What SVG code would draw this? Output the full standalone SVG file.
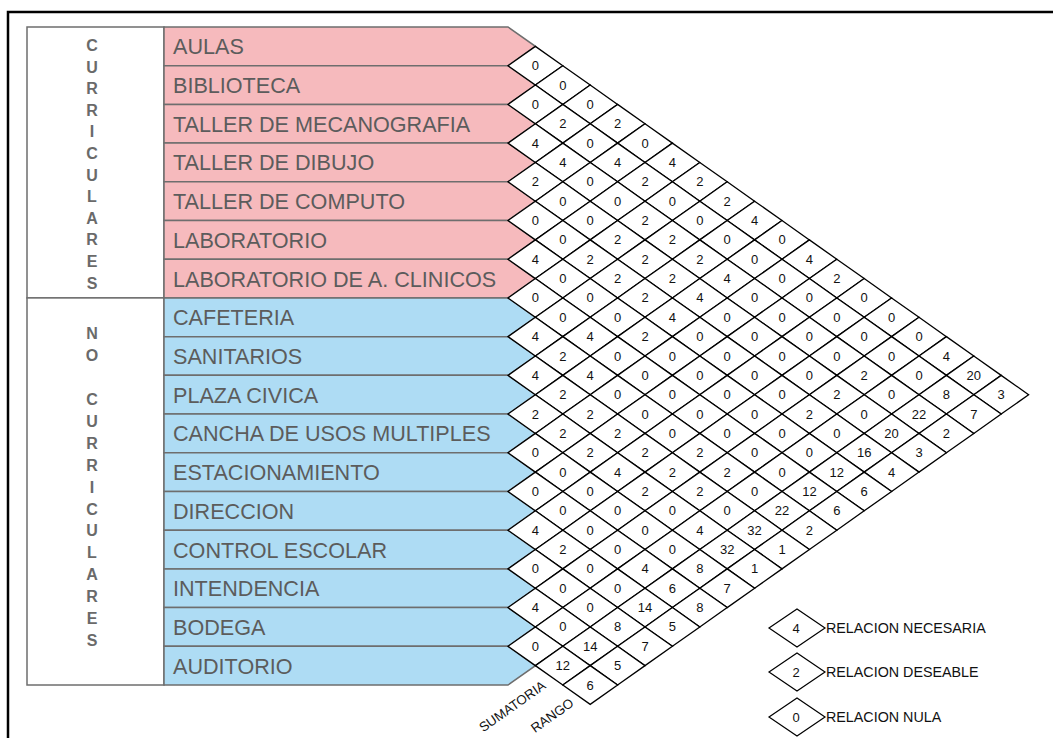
<svg xmlns="http://www.w3.org/2000/svg" xmlns:xlink="http://www.w3.org/1999/xlink" width="1053" height="738" viewBox="0 0 1053 738">
<style>
.lbl{font-family:"Liberation Sans",Arial,sans-serif;font-size:21.6px;fill:#5c5c5c}
.pk{fill:#f6babd;stroke:#6e6e6e;stroke-width:1.5}
.bl{fill:#aedcf4;stroke:#6e6e6e;stroke-width:1.5}
.cat{font-family:"Liberation Sans Narrow","Liberation Sans",Arial,sans-serif;font-size:16px;font-weight:bold;fill:#6a6a6a;text-anchor:middle}
.m use{fill:#fff;stroke:#000;stroke-width:1.3}
.m text,.lg text.d{font-family:"Liberation Sans",Arial,sans-serif;font-size:13px;fill:#111;text-anchor:middle}
.lg use{fill:#fff;stroke:#000;stroke-width:1.2}
.lg text.t{font-family:"Liberation Sans",Arial,sans-serif;font-size:14.3px;fill:#111}
.ax{font-family:"Liberation Sans",Arial,sans-serif;font-size:13.3px;fill:#111;text-anchor:middle}
</style>
<defs>
<path id="dm" d="M-27.4 0L0-19.35L27.4 0L0 19.35Z"/>
<path id="lgd" d="M-28 0L0-19L28 0L0 19Z"/>
</defs>
<rect x="0" y="0" width="1053" height="738" fill="#fff"/>
<rect id="frame" x="8" y="12" width="1100" height="800" fill="none" stroke="#000" stroke-width="2.5"/>

<g id="cat-curriculares">
<rect x="27" y="27" width="137" height="270.94" fill="#fff" stroke="#6e6e6e" stroke-width="1.5"/>
<text class="cat" x="92" y="51">C</text><text class="cat" x="92" y="72.6">U</text><text class="cat" x="92" y="94.2">R</text><text class="cat" x="92" y="115.8">R</text><text class="cat" x="92" y="137.4">I</text><text class="cat" x="92" y="159">C</text><text class="cat" x="92" y="180.6">U</text><text class="cat" x="92" y="202.2">L</text><text class="cat" x="92" y="223.8">A</text><text class="cat" x="92" y="245.4">R</text><text class="cat" x="92" y="267">E</text><text class="cat" x="92" y="288.6">S</text>
</g>
<g id="cat-no-curriculares">
<rect x="27" y="297.94" width="137" height="387.06" fill="#fff" stroke="#6e6e6e" stroke-width="1.5"/>
<text class="cat" x="92" y="339">N</text><text class="cat" x="92" y="360.9">O</text><text class="cat" x="92" y="404.8">C</text><text class="cat" x="92" y="426.7">U</text><text class="cat" x="92" y="448.7">R</text><text class="cat" x="92" y="470.6">R</text><text class="cat" x="92" y="492.6">I</text><text class="cat" x="92" y="514.5">C</text><text class="cat" x="92" y="536.4">U</text><text class="cat" x="92" y="558.3">L</text><text class="cat" x="92" y="580.3">A</text><text class="cat" x="92" y="602.2">R</text><text class="cat" x="92" y="624.1">E</text><text class="cat" x="92" y="646">S</text>
</g>

<g id="row-aulas"><polygon class="pk" points="164,27 508,27 535.4,46.35 508,65.71 164,65.71"/><text class="lbl" x="173" y="54.35">AULAS</text></g>
<g id="row-biblioteca"><polygon class="pk" points="164,65.71 508,65.71 535.4,85.06 508,104.41 164,104.41"/><text class="lbl" x="173" y="93.06">BIBLIOTECA</text></g>
<g id="row-mecanografia"><polygon class="pk" points="164,104.41 508,104.41 535.4,123.77 508,143.12 164,143.12"/><text class="lbl" x="173" y="131.77">TALLER DE MECANOGRAFIA</text></g>
<g id="row-dibujo"><polygon class="pk" points="164,143.12 508,143.12 535.4,162.47 508,181.82 164,181.82"/><text class="lbl" x="173" y="170.47">TALLER DE DIBUJO</text></g>
<g id="row-computo"><polygon class="pk" points="164,181.82 508,181.82 535.4,201.18 508,220.53 164,220.53"/><text class="lbl" x="173" y="209.18">TALLER DE COMPUTO</text></g>
<g id="row-laboratorio"><polygon class="pk" points="164,220.53 508,220.53 535.4,239.88 508,259.24 164,259.24"/><text class="lbl" x="173" y="247.88">LABORATORIO</text></g>
<g id="row-clinicos"><polygon class="pk" points="164,259.24 508,259.24 535.4,278.59 508,297.94 164,297.94"/><text class="lbl" x="173" y="286.59">LABORATORIO DE A. CLINICOS</text></g>
<g id="row-cafeteria"><polygon class="bl" points="164,297.94 508,297.94 535.4,317.30 508,336.65 164,336.65"/><text class="lbl" x="173" y="325.3">CAFETERIA</text></g>
<g id="row-sanitarios"><polygon class="bl" points="164,336.65 508,336.65 535.4,356 508,375.35 164,375.35"/><text class="lbl" x="173" y="364">SANITARIOS</text></g>
<g id="row-plaza"><polygon class="bl" points="164,375.35 508,375.35 535.4,394.71 508,414.06 164,414.06"/><text class="lbl" x="173" y="402.71">PLAZA CIVICA</text></g>
<g id="row-cancha"><polygon class="bl" points="164,414.06 508,414.06 535.4,433.41 508,452.77 164,452.77"/><text class="lbl" x="173" y="441.41">CANCHA DE USOS MULTIPLES</text></g>
<g id="row-estacionamiento"><polygon class="bl" points="164,452.77 508,452.77 535.4,472.12 508,491.47 164,491.47"/><text class="lbl" x="173" y="480.12">ESTACIONAMIENTO</text></g>
<g id="row-direccion"><polygon class="bl" points="164,491.47 508,491.47 535.4,510.83 508,530.18 164,530.18"/><text class="lbl" x="173" y="518.83">DIRECCION</text></g>
<g id="row-control"><polygon class="bl" points="164,530.18 508,530.18 535.4,549.53 508,568.88 164,568.88"/><text class="lbl" x="173" y="557.53">CONTROL ESCOLAR</text></g>
<g id="row-intendencia"><polygon class="bl" points="164,568.88 508,568.88 535.4,588.24 508,607.59 164,607.59"/><text class="lbl" x="173" y="596.24">INTENDENCIA</text></g>
<g id="row-bodega"><polygon class="bl" points="164,607.59 508,607.59 535.4,626.94 508,646.30 164,646.30"/><text class="lbl" x="173" y="634.94">BODEGA</text></g>
<g id="row-auditorio"><polygon class="bl" points="164,646.30 508,646.30 535.4,665.65 508,685 164,685"/><text class="lbl" x="173" y="673.65">AUDITORIO</text></g>

<g id="matrix" class="m">
<g transform="translate(0,65.71)"><use href="#dm" x="535.4"/><text x="535.4" y="4.5">0</text></g>
<g transform="translate(0,85.06)"><use href="#dm" x="562.8"/><text x="562.8" y="4.5">0</text></g>
<g transform="translate(0,104.41)"><use href="#dm" x="535.4"/><text x="535.4" y="4.5">0</text><use href="#dm" x="590.2"/><text x="590.2" y="4.5">0</text></g>
<g transform="translate(0,123.77)"><use href="#dm" x="562.8"/><text x="562.8" y="4.5">2</text><use href="#dm" x="617.6"/><text x="617.6" y="4.5">2</text></g>
<g transform="translate(0,143.12)"><use href="#dm" x="535.4"/><text x="535.4" y="4.5">4</text><use href="#dm" x="590.2"/><text x="590.2" y="4.5">0</text><use href="#dm" x="645"/><text x="645" y="4.5">0</text></g>
<g transform="translate(0,162.47)"><use href="#dm" x="562.8"/><text x="562.8" y="4.5">4</text><use href="#dm" x="617.6"/><text x="617.6" y="4.5">4</text><use href="#dm" x="672.4"/><text x="672.4" y="4.5">4</text></g>
<g transform="translate(0,181.82)"><use href="#dm" x="535.4"/><text x="535.4" y="4.5">2</text><use href="#dm" x="590.2"/><text x="590.2" y="4.5">0</text><use href="#dm" x="645"/><text x="645" y="4.5">2</text><use href="#dm" x="699.8"/><text x="699.8" y="4.5">2</text></g>
<g transform="translate(0,201.18)"><use href="#dm" x="562.8"/><text x="562.8" y="4.5">0</text><use href="#dm" x="617.6"/><text x="617.6" y="4.5">0</text><use href="#dm" x="672.4"/><text x="672.4" y="4.5">0</text><use href="#dm" x="727.2"/><text x="727.2" y="4.5">2</text></g>
<g transform="translate(0,220.53)"><use href="#dm" x="535.4"/><text x="535.4" y="4.5">0</text><use href="#dm" x="590.2"/><text x="590.2" y="4.5">0</text><use href="#dm" x="645"/><text x="645" y="4.5">2</text><use href="#dm" x="699.8"/><text x="699.8" y="4.5">0</text><use href="#dm" x="754.6"/><text x="754.6" y="4.5">4</text></g>
<g transform="translate(0,239.88)"><use href="#dm" x="562.8"/><text x="562.8" y="4.5">0</text><use href="#dm" x="617.6"/><text x="617.6" y="4.5">2</text><use href="#dm" x="672.4"/><text x="672.4" y="4.5">2</text><use href="#dm" x="727.2"/><text x="727.2" y="4.5">0</text><use href="#dm" x="782"/><text x="782" y="4.5">0</text></g>
<g transform="translate(0,259.24)"><use href="#dm" x="535.4"/><text x="535.4" y="4.5">4</text><use href="#dm" x="590.2"/><text x="590.2" y="4.5">2</text><use href="#dm" x="645"/><text x="645" y="4.5">2</text><use href="#dm" x="699.8"/><text x="699.8" y="4.5">2</text><use href="#dm" x="754.6"/><text x="754.6" y="4.5">0</text><use href="#dm" x="809.4"/><text x="809.4" y="4.5">4</text></g>
<g transform="translate(0,278.59)"><use href="#dm" x="562.8"/><text x="562.8" y="4.5">0</text><use href="#dm" x="617.6"/><text x="617.6" y="4.5">2</text><use href="#dm" x="672.4"/><text x="672.4" y="4.5">2</text><use href="#dm" x="727.2"/><text x="727.2" y="4.5">4</text><use href="#dm" x="782"/><text x="782" y="4.5">0</text><use href="#dm" x="836.8"/><text x="836.8" y="4.5">2</text></g>
<g transform="translate(0,297.94)"><use href="#dm" x="535.4"/><text x="535.4" y="4.5">0</text><use href="#dm" x="590.2"/><text x="590.2" y="4.5">0</text><use href="#dm" x="645"/><text x="645" y="4.5">2</text><use href="#dm" x="699.8"/><text x="699.8" y="4.5">4</text><use href="#dm" x="754.6"/><text x="754.6" y="4.5">0</text><use href="#dm" x="809.4"/><text x="809.4" y="4.5">0</text><use href="#dm" x="864.2"/><text x="864.2" y="4.5">0</text></g>
<g transform="translate(0,317.30)"><use href="#dm" x="562.8"/><text x="562.8" y="4.5">0</text><use href="#dm" x="617.6"/><text x="617.6" y="4.5">0</text><use href="#dm" x="672.4"/><text x="672.4" y="4.5">4</text><use href="#dm" x="727.2"/><text x="727.2" y="4.5">0</text><use href="#dm" x="782"/><text x="782" y="4.5">0</text><use href="#dm" x="836.8"/><text x="836.8" y="4.5">0</text><use href="#dm" x="891.6"/><text x="891.6" y="4.5">0</text></g>
<g transform="translate(0,336.65)"><use href="#dm" x="535.4"/><text x="535.4" y="4.5">4</text><use href="#dm" x="590.2"/><text x="590.2" y="4.5">4</text><use href="#dm" x="645"/><text x="645" y="4.5">2</text><use href="#dm" x="699.8"/><text x="699.8" y="4.5">0</text><use href="#dm" x="754.6"/><text x="754.6" y="4.5">0</text><use href="#dm" x="809.4"/><text x="809.4" y="4.5">0</text><use href="#dm" x="864.2"/><text x="864.2" y="4.5">0</text><use href="#dm" x="919"/><text x="919" y="4.5">0</text></g>
<g transform="translate(0,356)"><use href="#dm" x="562.8"/><text x="562.8" y="4.5">2</text><use href="#dm" x="617.6"/><text x="617.6" y="4.5">0</text><use href="#dm" x="672.4"/><text x="672.4" y="4.5">0</text><use href="#dm" x="727.2"/><text x="727.2" y="4.5">0</text><use href="#dm" x="782"/><text x="782" y="4.5">0</text><use href="#dm" x="836.8"/><text x="836.8" y="4.5">0</text><use href="#dm" x="891.6"/><text x="891.6" y="4.5">0</text><use href="#dm" x="946.4"/><text x="946.4" y="4.5">4</text></g>
<g transform="translate(0,375.35)"><use href="#dm" x="535.4"/><text x="535.4" y="4.5">4</text><use href="#dm" x="590.2"/><text x="590.2" y="4.5">4</text><use href="#dm" x="645"/><text x="645" y="4.5">0</text><use href="#dm" x="699.8"/><text x="699.8" y="4.5">0</text><use href="#dm" x="754.6"/><text x="754.6" y="4.5">0</text><use href="#dm" x="809.4"/><text x="809.4" y="4.5">0</text><use href="#dm" x="864.2"/><text x="864.2" y="4.5">2</text><use href="#dm" x="919"/><text x="919" y="4.5">0</text><use href="#dm" x="973.8"/><text x="973.8" y="4.5">20</text></g>
<g transform="translate(0,394.71)"><use href="#dm" x="562.8"/><text x="562.8" y="4.5">2</text><use href="#dm" x="617.6"/><text x="617.6" y="4.5">0</text><use href="#dm" x="672.4"/><text x="672.4" y="4.5">0</text><use href="#dm" x="727.2"/><text x="727.2" y="4.5">0</text><use href="#dm" x="782"/><text x="782" y="4.5">0</text><use href="#dm" x="836.8"/><text x="836.8" y="4.5">2</text><use href="#dm" x="891.6"/><text x="891.6" y="4.5">0</text><use href="#dm" x="946.4"/><text x="946.4" y="4.5">8</text><use href="#dm" x="1001.2"/><text x="1001.2" y="4.5">3</text></g>
<g transform="translate(0,414.06)"><use href="#dm" x="535.4"/><text x="535.4" y="4.5">2</text><use href="#dm" x="590.2"/><text x="590.2" y="4.5">2</text><use href="#dm" x="645"/><text x="645" y="4.5">0</text><use href="#dm" x="699.8"/><text x="699.8" y="4.5">0</text><use href="#dm" x="754.6"/><text x="754.6" y="4.5">0</text><use href="#dm" x="809.4"/><text x="809.4" y="4.5">2</text><use href="#dm" x="864.2"/><text x="864.2" y="4.5">0</text><use href="#dm" x="919"/><text x="919" y="4.5">22</text><use href="#dm" x="973.8"/><text x="973.8" y="4.5">7</text></g>
<g transform="translate(0,433.41)"><use href="#dm" x="562.8"/><text x="562.8" y="4.5">2</text><use href="#dm" x="617.6"/><text x="617.6" y="4.5">2</text><use href="#dm" x="672.4"/><text x="672.4" y="4.5">0</text><use href="#dm" x="727.2"/><text x="727.2" y="4.5">0</text><use href="#dm" x="782"/><text x="782" y="4.5">0</text><use href="#dm" x="836.8"/><text x="836.8" y="4.5">0</text><use href="#dm" x="891.6"/><text x="891.6" y="4.5">20</text><use href="#dm" x="946.4"/><text x="946.4" y="4.5">2</text></g>
<g transform="translate(0,452.77)"><use href="#dm" x="535.4"/><text x="535.4" y="4.5">0</text><use href="#dm" x="590.2"/><text x="590.2" y="4.5">2</text><use href="#dm" x="645"/><text x="645" y="4.5">2</text><use href="#dm" x="699.8"/><text x="699.8" y="4.5">2</text><use href="#dm" x="754.6"/><text x="754.6" y="4.5">0</text><use href="#dm" x="809.4"/><text x="809.4" y="4.5">0</text><use href="#dm" x="864.2"/><text x="864.2" y="4.5">16</text><use href="#dm" x="919"/><text x="919" y="4.5">3</text></g>
<g transform="translate(0,472.12)"><use href="#dm" x="562.8"/><text x="562.8" y="4.5">0</text><use href="#dm" x="617.6"/><text x="617.6" y="4.5">4</text><use href="#dm" x="672.4"/><text x="672.4" y="4.5">2</text><use href="#dm" x="727.2"/><text x="727.2" y="4.5">2</text><use href="#dm" x="782"/><text x="782" y="4.5">0</text><use href="#dm" x="836.8"/><text x="836.8" y="4.5">12</text><use href="#dm" x="891.6"/><text x="891.6" y="4.5">4</text></g>
<g transform="translate(0,491.47)"><use href="#dm" x="535.4"/><text x="535.4" y="4.5">0</text><use href="#dm" x="590.2"/><text x="590.2" y="4.5">0</text><use href="#dm" x="645"/><text x="645" y="4.5">2</text><use href="#dm" x="699.8"/><text x="699.8" y="4.5">2</text><use href="#dm" x="754.6"/><text x="754.6" y="4.5">0</text><use href="#dm" x="809.4"/><text x="809.4" y="4.5">12</text><use href="#dm" x="864.2"/><text x="864.2" y="4.5">6</text></g>
<g transform="translate(0,510.83)"><use href="#dm" x="562.8"/><text x="562.8" y="4.5">0</text><use href="#dm" x="617.6"/><text x="617.6" y="4.5">0</text><use href="#dm" x="672.4"/><text x="672.4" y="4.5">0</text><use href="#dm" x="727.2"/><text x="727.2" y="4.5">0</text><use href="#dm" x="782"/><text x="782" y="4.5">22</text><use href="#dm" x="836.8"/><text x="836.8" y="4.5">6</text></g>
<g transform="translate(0,530.18)"><use href="#dm" x="535.4"/><text x="535.4" y="4.5">4</text><use href="#dm" x="590.2"/><text x="590.2" y="4.5">0</text><use href="#dm" x="645"/><text x="645" y="4.5">0</text><use href="#dm" x="699.8"/><text x="699.8" y="4.5">4</text><use href="#dm" x="754.6"/><text x="754.6" y="4.5">32</text><use href="#dm" x="809.4"/><text x="809.4" y="4.5">2</text></g>
<g transform="translate(0,549.53)"><use href="#dm" x="562.8"/><text x="562.8" y="4.5">2</text><use href="#dm" x="617.6"/><text x="617.6" y="4.5">0</text><use href="#dm" x="672.4"/><text x="672.4" y="4.5">0</text><use href="#dm" x="727.2"/><text x="727.2" y="4.5">32</text><use href="#dm" x="782"/><text x="782" y="4.5">1</text></g>
<g transform="translate(0,568.88)"><use href="#dm" x="535.4"/><text x="535.4" y="4.5">0</text><use href="#dm" x="590.2"/><text x="590.2" y="4.5">0</text><use href="#dm" x="645"/><text x="645" y="4.5">4</text><use href="#dm" x="699.8"/><text x="699.8" y="4.5">8</text><use href="#dm" x="754.6"/><text x="754.6" y="4.5">1</text></g>
<g transform="translate(0,588.24)"><use href="#dm" x="562.8"/><text x="562.8" y="4.5">0</text><use href="#dm" x="617.6"/><text x="617.6" y="4.5">0</text><use href="#dm" x="672.4"/><text x="672.4" y="4.5">6</text><use href="#dm" x="727.2"/><text x="727.2" y="4.5">7</text></g>
<g transform="translate(0,607.59)"><use href="#dm" x="535.4"/><text x="535.4" y="4.5">4</text><use href="#dm" x="590.2"/><text x="590.2" y="4.5">0</text><use href="#dm" x="645"/><text x="645" y="4.5">14</text><use href="#dm" x="699.8"/><text x="699.8" y="4.5">8</text></g>
<g transform="translate(0,626.94)"><use href="#dm" x="562.8"/><text x="562.8" y="4.5">0</text><use href="#dm" x="617.6"/><text x="617.6" y="4.5">8</text><use href="#dm" x="672.4"/><text x="672.4" y="4.5">5</text></g>
<g transform="translate(0,646.30)"><use href="#dm" x="535.4"/><text x="535.4" y="4.5">0</text><use href="#dm" x="590.2"/><text x="590.2" y="4.5">14</text><use href="#dm" x="645"/><text x="645" y="4.5">7</text></g>
<g transform="translate(0,665.65)"><use href="#dm" x="562.8"/><text x="562.8" y="4.5">12</text><use href="#dm" x="617.6"/><text x="617.6" y="4.5">5</text></g>
<g transform="translate(0,685)"><use href="#dm" x="590.2"/><text x="590.2" y="4.5">6</text></g>
</g>

<g id="axis-labels">
<text class="ax" transform="translate(512,706) rotate(-35.3)" y="5">SUMATORIA</text>
<text class="ax" transform="translate(552,715) rotate(-35.3)" y="5">RANGO</text>
</g>

<g id="legend" class="lg">
<g id="legend-necesaria"><use href="#lgd" x="797" y="628"/><text class="d" x="796" y="632.5">4</text><text class="t" x="826" y="633">RELACION NECESARIA</text></g>
<g id="legend-deseable"><use href="#lgd" x="797" y="672"/><text class="d" x="796" y="676.5">2</text><text class="t" x="826" y="677">RELACION DESEABLE</text></g>
<g id="legend-nula"><use href="#lgd" x="797" y="717"/><text class="d" x="796" y="721.5">0</text><text class="t" x="826" y="722">RELACION NULA</text></g>
</g>
<g id="connectors"/>
</svg>
